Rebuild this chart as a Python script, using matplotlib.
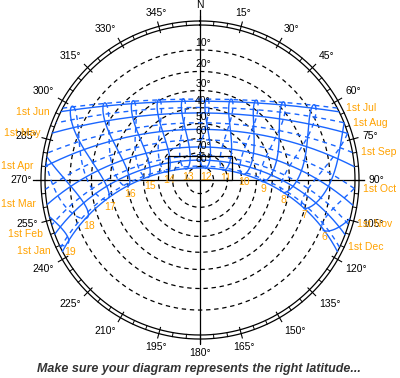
"""
Sun path diagram (stereographic), Perth-like latitude
"""

import matplotlib

matplotlib.use("Agg")

import matplotlib.pyplot as plt
import numpy as np
from matplotlib.patches import Rectangle


# site
LATITUDE = -31.95
LONGITUDE = 115.86
TIMEZONE = 8.0

# date lines: day of year of the 1st of each month
MONTH_NAMES = ["Jan", "Feb", "Mar", "Apr", "May", "Jun",
               "Jul", "Aug", "Sep", "Oct", "Nov", "Dec"]
MONTH_DAYS = [1, 32, 60, 91, 121, 152, 182, 213, 244, 274, 305, 335]

# hour lines (clock time)
HOURS = [6, 7, 8, 9, 10, 11, 12, 13, 14, 15, 16, 17, 18, 19]
HOUR_LABEL_DAY = 355

# altitude rings and azimuth labels
ALTITUDES = [10, 20, 30, 40, 50, 60, 70, 80]
AZIMUTHS = list(range(0, 360, 15))

BLUE = "#1a66ff"
ORANGE = "#ffa200"
PX = 155.0  # pixels per unit radius (horizon)
RMAX = 1.2


def sun_position(day, hour):
    gamma = 2 * np.pi / 365 * (day - 1 + (hour - 12) / 24)
    eot = 229.18 * (0.000075 + 0.001868 * np.cos(gamma) - 0.032077 * np.sin(gamma)
                    - 0.014615 * np.cos(2 * gamma) - 0.040849 * np.sin(2 * gamma))
    decl = (0.006918 - 0.399912 * np.cos(gamma) + 0.070257 * np.sin(gamma)
            - 0.006758 * np.cos(2 * gamma) + 0.000907 * np.sin(2 * gamma)
            - 0.002697 * np.cos(3 * gamma) + 0.00148 * np.sin(3 * gamma))
    tst = hour * 60 + eot + 4 * LONGITUDE - 60 * TIMEZONE
    ha = np.radians(tst / 4 - 180)
    phi = np.radians(LATITUDE)
    sin_alt = np.sin(phi) * np.sin(decl) + np.cos(phi) * np.cos(decl) * np.cos(ha)
    alt = np.degrees(np.arcsin(sin_alt))
    az = np.arctan2(-np.sin(ha), np.tan(decl) * np.cos(phi) - np.sin(phi) * np.cos(ha))
    return np.mod(az, 2 * np.pi), alt


def to_r(alt):
    return np.tan(np.radians(90 - np.asarray(alt)) / 2)


def px(n):
    return n * 0.72


fig = plt.figure(figsize=(4.0, 3.78), dpi=100)
cx, cy = 200, 180
rad = PX * RMAX
ax = fig.add_axes([(cx - rad) / 400, (378 - cy - rad) / 378, 2 * rad / 400, 2 * rad / 378],
                  projection="polar")
ax.set_theta_zero_location("N")
ax.set_theta_direction(-1)
ax.set_ylim(0, RMAX)
ax.axis("off")

full = np.linspace(0, 2 * np.pi, 721)

# altitude rings
for alt in ALTITUDES:
    ax.plot(full, np.full_like(full, to_r(alt)), color="black", lw=0.9,
            linestyle=(0, (3.5, 3)))
    ax.annotate(f"{alt}°", (0, to_r(alt)), xytext=(px(3), px(2)),
                textcoords="offset points", ha="center", va="bottom",
                fontsize=7.5, family="Liberation Sans")

# outer double ring with ticks
r_in, r_out = 1.0, 1.026
for r in (r_in, r_out):
    ax.plot(full, np.full_like(full, r), color="black", lw=0.9)
for az in range(0, 360, 5):
    t = np.radians(az)
    if az % 15 == 0:
        ax.plot([t, t], [0.985, 1.055], color="black", lw=0.8)
    else:
        ax.plot([t, t], [r_in, r_out], color="black", lw=0.7)

# cross lines
ax.plot([0, 0], [0, 1.095], color="black", lw=0.9)
ax.plot([np.pi, np.pi], [0, 1.05], color="black", lw=0.9)
ax.plot([np.pi / 2, np.pi / 2], [0, 1.055], color="black", lw=0.9)
ax.plot([1.5 * np.pi, 1.5 * np.pi], [0, 1.08], color="black", lw=0.9)

# azimuth labels
for az in AZIMUTHS:
    t = np.radians(az)
    s, c = np.sin(t), np.cos(t)
    ha = "left" if s > 0.3 else ("right" if s < -0.3 else "center")
    va = "bottom" if c > 0.3 else ("top" if c < -0.3 else "center")
    label = "N" if az == 0 else f"{az}°"
    r = 1.1 if az == 0 else 1.085
    ax.text(t, r, label, ha=ha, va=va, fontsize=7.5, family="Liberation Sans")

# date lines
hours_fine = np.linspace(3, 22, 1141)
for i, (name, day) in enumerate(zip(MONTH_NAMES, MONTH_DAYS)):
    az, alt = sun_position(day, hours_fine)
    up = alt >= 0
    style = "-" if i < 6 else (0, (3.5, 3))
    ax.plot(az[up], to_r(alt[up]), color=BLUE, lw=1.0, linestyle=style)
    if i < 6:
        k = np.where(up)[0][-1]
        ax.annotate(f"1st {name}", (az[k], to_r(alt[k])), xytext=(px(-12), 0),
                    textcoords="offset points", ha="right", va="center",
                    color=ORANGE, fontsize=7.5, family="Liberation Sans")
    else:
        k = np.where(up)[0][0]
        ax.annotate(f"1st {name}", (az[k], to_r(alt[k])), xytext=(px(9), 0),
                    textcoords="offset points", ha="left", va="center",
                    color=ORANGE, fontsize=7.5, family="Liberation Sans")

# hour lines (analemma halves)
days_first = np.arange(1, 183)
days_second = np.append(np.arange(182, 366), 1)
for hour in HOURS:
    for days, style in ((days_first, "-"), (days_second, (0, (3.5, 3)))):
        az, alt = sun_position(days, hour)
        r = np.where(alt >= 0, to_r(np.maximum(alt, 0)), np.nan)
        ax.plot(az, r, color=BLUE, lw=1.0, linestyle=style)
    az, alt = sun_position(HOUR_LABEL_DAY, hour)
    ax.annotate(str(hour), (az, to_r(alt)), xytext=(px(2), px(-3)),
                textcoords="offset points", ha="center", va="top",
                color=ORANGE, fontsize=7.5, family="Liberation Sans")

# box near the zenith, as drawn in the original
fig.add_artist(Rectangle((168 / 400, 198 / 378), 64 / 400, 24 / 378,
                         transform=fig.transFigure, fill=False,
                         edgecolor="black", lw=0.9))

fig.text(0.497, 1 - 369 / 378, "Make sure your diagram represents the right latitude...",
         ha="center", va="center", fontsize=9, fontweight="bold", fontstyle="italic",
         color="#333333", family="Liberation Sans")

fig.savefig("out.png", dpi=100)
